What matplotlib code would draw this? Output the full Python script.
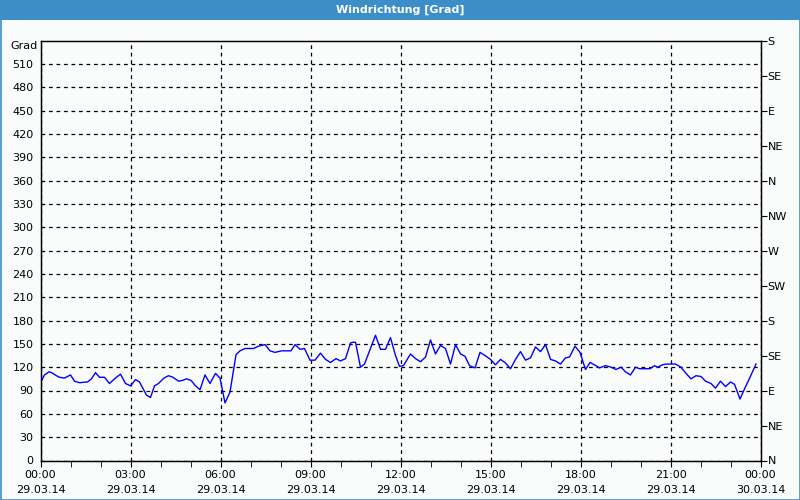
import matplotlib.pyplot as plt
from matplotlib.patches import Rectangle

# minutes since 29.03.14 00:00, wind direction in degrees
minutes = [0, 8, 17, 22, 32, 38, 48, 60, 68, 78, 94, 102, 110, 118, 128, 138, 148,
           160, 170, 180, 190, 198, 212, 220, 228, 236, 247, 256, 265, 276, 284, 292,
           301, 310, 319, 329, 339, 350, 359, 369, 379, 387, 391, 399, 409, 426, 436,
           449, 459, 469, 482, 501, 509, 519, 528, 539, 549, 560, 570, 580, 591, 600,
           610, 620, 624, 630, 640, 648, 660, 670, 680, 690, 700, 710, 718, 726, 740,
           750, 760, 770, 780, 790, 800, 810, 820, 830, 840, 849, 858, 869, 879, 889,
           900, 910, 920, 929, 940, 950, 960, 970, 980, 990, 1000, 1010, 1020, 1030,
           1040, 1050, 1058, 1069, 1079, 1084, 1090, 1099, 1108, 1118, 1130, 1141,
           1151, 1161, 1170, 1180, 1190, 1198, 1208, 1219, 1228, 1234, 1244, 1251,
           1270, 1281, 1291, 1301, 1311, 1321, 1330, 1341, 1350, 1360, 1370, 1380,
           1388, 1399, 1408, 1419, 1431]
grad = [100, 110, 114, 113, 109, 107, 106, 110, 102, 100, 101, 105, 113, 107, 107, 99, 105,
        111, 99, 96, 104, 101, 84, 81, 96, 99, 106, 109, 107, 102, 103, 105,
        103, 96, 91, 110, 99, 112, 106, 74, 88, 120, 136, 141, 144, 144, 147,
        149, 141, 139, 141, 141, 149, 143, 144, 129, 129, 138, 130, 126, 131, 128,
        131, 151, 152, 152, 120, 124, 144, 161, 143, 143, 158, 135, 121, 122, 137,
        131, 127, 133, 155, 137, 148, 144, 124, 149, 137, 134, 122, 119, 139, 135,
        130, 123, 130, 126, 118, 130, 140, 129, 132, 146, 140, 149, 130, 128,
        124, 132, 133, 147, 139, 129, 117, 126, 123, 119, 122, 120,
        117, 120, 114, 110, 120, 118, 118, 118, 122, 120, 123, 124,
        124, 120, 112, 105, 109, 108, 102, 99, 93, 102, 95, 101,
        98, 79, 92, 107, 124]

x_ticks = [0, 180, 360, 540, 720, 900, 1080, 1260, 1440]
x_labels = ["00:00\n29.03.14", "03:00\n29.03.14", "06:00\n29.03.14", "09:00\n29.03.14",
            "12:00\n29.03.14", "15:00\n29.03.14", "18:00\n29.03.14", "21:00\n29.03.14",
            "00:00\n30.03.14"]
y_ticks = list(range(0, 511, 30))
dir_ticks = list(range(0, 541, 45))
dir_labels = ["N", "NE", "E", "SE", "S", "SW", "W", "NW", "N", "NE", "E", "SE", "S"]

bg = "#f9fcfb"
blue_bar = "#3c8ec8"

fig = plt.figure(figsize=(8, 5), dpi=100, facecolor=bg)
fig.patches.append(Rectangle((0, 480 / 500), 1, 20 / 500, transform=fig.transFigure,
                             facecolor=blue_bar, edgecolor="none", zorder=0))
fig.patches.append(Rectangle((0.5 / 800, 0.5 / 500), 799 / 800, 499 / 500, transform=fig.transFigure,
                             facecolor="none", edgecolor=blue_bar, linewidth=1.2, zorder=5))
fig.text(0.5, 1 - 10 / 500, "Windrichtung [Grad]", color="white", fontweight="bold",
         fontsize=8, ha="center", va="center")

ax = fig.add_axes([40.5 / 800, 1 - 460.5 / 500, 720 / 800, 420 / 500])
ax.set_facecolor(bg)
ax.plot(minutes, grad, color="#0000ff", linewidth=1)

ax.set_xlim(0, 1440)
ax.set_ylim(0, 540)
ax.set_xticks(x_ticks)
ax.set_xticklabels(x_labels, fontsize=8, linespacing=1.6)
ax.set_xticks(range(0, 1441, 60), minor=True)
ax.set_yticks(y_ticks)
ax.set_yticklabels([str(v) for v in y_ticks], fontsize=8)
ax.tick_params(axis="y", length=0, pad=5)
ax.tick_params(axis="x", which="both", length=4, direction="out", pad=3)
ax.grid(True, color="black", linestyle=(0, (3, 3)), linewidth=0.9)
for s in ax.spines.values():
    s.set_linewidth(1)

ax2 = ax.twinx()
ax2.set_ylim(0, 540)
ax2.set_yticks(dir_ticks)
ax2.set_yticklabels(dir_labels, fontsize=8)
ax2.tick_params(axis="y", length=4, direction="out", pad=1)

fig.text(24 / 800, 1 - 46 / 500, "Grad", fontsize=8, ha="center", va="center")

fig.savefig("out.png", dpi=100, facecolor=bg)
